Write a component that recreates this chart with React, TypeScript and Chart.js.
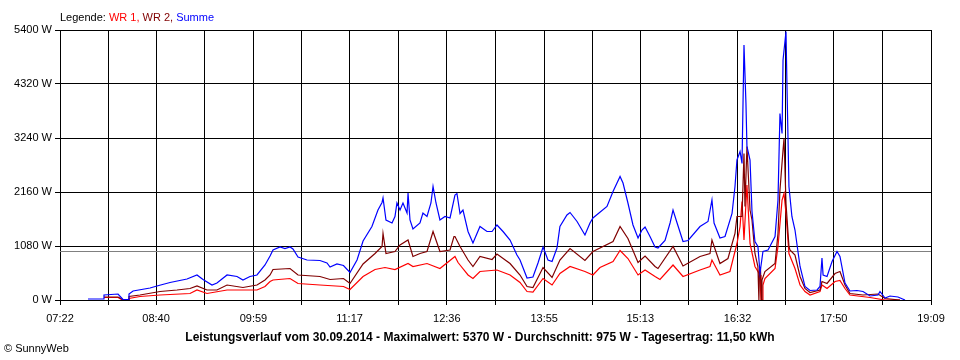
import React, { useEffect, useRef } from "react";
import { Chart, registerables } from "chart.js";

Chart.register(...registerables);

// Tick labels
const xTickLabels = ["07:22", "08:40", "09:59", "11:17", "12:36", "13:55", "15:13", "16:32", "17:50", "19:09"];
const yMax = 5400;
const yStep = 1080;
const averageW = 975;

const titleText = "Leistungsverlauf vom 30.09.2014 - Maximalwert: 5370 W - Durchschnitt: 975 W - Tagesertrag: 11,50 kWh";
const legendParts = [
  { text: "Legende: ", color: "#000000" },
  { text: "WR 1, ", color: "#FF0000" },
  { text: "WR 2, ", color: "#800000" },
  { text: "Summe", color: "#0000FF" },
];

// Summe (minutes since midnight, watts)
const sumMin = [464.7, 477.0, 477.7, 489.1, 492, 493.1, 497.5, 498.0, 501.3, 515.1, 520.7, 531.3, 545.1, 553.2, 558.1, 565.4, 569.4, 577.6, 585.7, 590.5, 596.2, 601.9, 608.4, 612.5, 614.9, 620.6, 624.6, 628.7, 631.1, 635.2, 642.5, 653.0, 658.7, 661.2, 666.8, 672.1, 677.4, 683.1, 688.0, 695.2, 700.1, 703.4, 704.2, 706.6, 711.5, 713.9, 715.5, 718.0, 720.4, 723.7, 724.5, 726.1, 728.5, 734.2, 736.6, 739.9, 743.1, 744.8, 747.2, 750.4, 754.5, 758.6, 762.6, 764.2, 766.7, 769.1, 773.2, 777.2, 782.9, 788.6, 792.7, 796.7, 801.6, 807.3, 812.9, 815.4, 821.1, 825.9, 830.0, 834.1, 838.1, 841.4, 845.4, 847.8, 853.5, 856.0, 861.7, 868.1, 872.2, 874.6, 886.0, 890.9, 896.6, 899.0, 903.0, 907.1, 911.2, 914.4, 916.9, 920.9, 925.0, 927.4, 933.1, 937.2, 939.6, 942.9, 947.7, 951.8, 961.5, 968.0, 971.2, 972.9, 977.7, 981.8, 987.5, 989.9, 991.5, 994.0, 995.6, 997.2, 998.8, 999.6, 1002.1, 1003.7, 1006.1, 1008.5, 1010.2, 1012.6, 1016.7, 1022.4, 1024.8, 1026.4, 1028.1, 1028.9, 1031.3, 1032.1, 1033.7, 1036.1, 1038.6, 1042.7, 1046.7, 1050.8, 1056.5, 1058.9, 1060.5, 1061.4, 1064.6, 1068.7, 1072.7, 1075.1, 1079.2, 1083.2, 1088.9, 1093.8, 1099.5, 1106.0, 1107.6, 1111.7, 1115.7, 1122.2, 1127.9];
const sumW = [20, 20, 100, 120, 40, 10, 10, 120, 180, 240, 280, 350, 420, 500, 410, 300, 340, 500, 470, 400, 470, 500, 700, 880, 1000, 1060, 1030, 1060, 1020, 860, 800, 790, 740, 660, 720, 690, 550, 800, 1180, 1470, 1800, 1950, 2040, 1600, 1540, 1670, 1940, 1800, 1940, 1740, 2140, 1600, 1420, 1540, 1740, 1670, 1940, 2270, 1940, 1600, 1670, 1640, 2100, 2130, 1730, 1800, 1370, 1140, 1470, 1370, 1370, 1500, 1370, 1200, 900, 800, 440, 460, 740, 1060, 800, 770, 1040, 1470, 1700, 1750, 1570, 1300, 1540, 1640, 1870, 2170, 2470, 2340, 1940, 1500, 1240, 1400, 1460, 1270, 1060, 1040, 1190, 1540, 1800, 1540, 1170, 1190, 1470, 1570, 2000, 1540, 1240, 1270, 1730, 2270, 2800, 2970, 2730, 5100, 3930, 3070, 2800, 1770, 1170, 1070, 540, 970, 1000, 1270, 2000, 3730, 3330, 4800, 5370, 4270, 2270, 1670, 1400, 670, 270, 190, 200, 270, 840, 500, 470, 770, 970, 870, 340, 180, 190, 170, 80, 100, 170, 40, 80, 60, 0];

// WR 2
const wr2Min = [477.7, 489.1, 492, 493.1, 497.5, 498.0, 506.9, 523.2, 537.0, 547.5, 553.2, 561.3, 569.4, 577.6, 590.5, 601.9, 608.4, 612.5, 614.9, 628.7, 635.2, 653.0, 661.2, 672.1, 677.4, 688.0, 697.7, 703.4, 704.2, 706.6, 713.9, 718.0, 724.5, 728.5, 734.2, 739.9, 744.8, 750.4, 758.6, 761.8, 762.6, 766.7, 773.2, 777.2, 782.9, 792.7, 796.7, 807.3, 815.4, 821.1, 825.9, 834.1, 841.4, 847.8, 856.0, 868.1, 874.6, 890.9, 896.6, 903.0, 911.2, 916.9, 925.0, 927.4, 939.6, 947.7, 961.5, 969.6, 971.2, 977.7, 984.2, 989.9, 991.5, 995.6, 997.2, 998.0, 999.6, 1002.1, 1003.7, 1006.1, 1008.5, 1009.3, 1009.8, 1010.6, 1011.3, 1011.8, 1014.2, 1022.4, 1024.8, 1026.4, 1028.9, 1029.7, 1031.3, 1033.7, 1034.5, 1038.6, 1042.7, 1046.7, 1050.8, 1058.9, 1060.5, 1064.6, 1071.1, 1075.1, 1079.2, 1083.2, 1093.8, 1106.0, 1111.7, 1123.8];
const wr2W = [60, 60, 20, 10, 10, 70, 100, 170, 200, 230, 280, 200, 200, 300, 250, 300, 400, 500, 610, 630, 500, 470, 410, 430, 330, 720, 930, 1070, 1330, 930, 970, 1100, 1200, 870, 930, 970, 1370, 970, 1000, 1270, 1270, 1070, 800, 670, 870, 810, 920, 730, 500, 270, 250, 650, 450, 800, 1030, 790, 970, 1170, 1470, 1230, 750, 880, 670, 630, 1070, 680, 870, 930, 1200, 730, 830, 1330, 1670, 1670, 2930, 1870, 3070, 1800, 1600, 930, 670, 0, 600, 620, 0, 400, 570, 730, 1330, 2200, 3000, 3230, 1930, 1070, 1000, 900, 470, 230, 150, 200, 370, 330, 530, 570, 300, 130, 100, 120, 30, 0];

// WR 1
const wr1Min = [477.7, 489.1, 492, 497.5, 498.0, 506.9, 523.2, 547.5, 553.2, 561.3, 577.6, 601.9, 608.4, 612.5, 614.9, 628.7, 635.2, 653.0, 672.1, 677.4, 688.0, 697.7, 705.8, 713.9, 724.5, 728.5, 739.9, 750.4, 762.6, 765.1, 766.7, 773.2, 777.2, 782.9, 796.7, 807.3, 815.4, 821.1, 825.9, 834.1, 841.4, 847.8, 856.0, 868.1, 874.6, 880.3, 890.9, 896.6, 903.0, 911.2, 916.9, 925.0, 929.0, 939.6, 947.7, 961.5, 969.6, 971.2, 977.7, 985.8, 991.5, 994.0, 995.6, 997.2, 999.6, 1002.1, 1006.1, 1010.2, 1011.0, 1012.0, 1012.6, 1014.2, 1022.4, 1024.8, 1028.1, 1029.7, 1031.3, 1033.7, 1038.6, 1042.7, 1046.7, 1050.8, 1058.9, 1060.5, 1064.6, 1071.1, 1075.1, 1079.2, 1083.2, 1099.5, 1111.7, 1123.8];
const wr1W = [50, 50, 10, 10, 30, 70, 100, 130, 200, 130, 200, 200, 270, 370, 400, 430, 330, 300, 270, 210, 470, 610, 650, 610, 730, 670, 730, 630, 870, 750, 700, 500, 430, 570, 600, 500, 350, 170, 160, 430, 300, 530, 670, 570, 500, 650, 770, 990, 830, 500, 600, 470, 410, 700, 470, 600, 670, 800, 500, 570, 1130, 1470, 1970, 1200, 2300, 1130, 670, 500, 0, 0, 300, 430, 630, 1070, 2000, 2130, 1730, 930, 630, 300, 170, 100, 170, 300, 230, 370, 390, 230, 100, 50, 0, 0];

const toMin = (s: string) => {
  const [h, m] = s.split(":").map(Number);
  return h * 60 + m;
};
const labelMinutes = xTickLabels.map(toMin);
const gridMinutes: number[] = [];
labelMinutes.forEach((m, i) => {
  gridMinutes.push(m);
  if (i < labelMinutes.length - 1) gridMinutes.push((m + labelMinutes[i + 1]) / 2);
});

const pts = (xs: number[], ys: number[]) => xs.map((x, i) => ({ x, y: ys[i] }));

const FONT = "'Liberation Sans', Arial, sans-serif";

export default function App() {
  const ref = useRef<HTMLCanvasElement | null>(null);
  useEffect(() => {
    if (!ref.current) return;
    const overlay = {
      id: "overlay",
      beforeDatasetsDraw(chart: any) {
        const { ctx, chartArea, scales } = chart;
        const y = Math.round(scales.y.getPixelForValue(averageW)) + 0.5;
        ctx.save();
        ctx.strokeStyle = "#808080";
        ctx.lineWidth = 1;
        ctx.beginPath();
        ctx.moveTo(chartArea.left, y);
        ctx.lineTo(chartArea.right, y);
        ctx.stroke();
        ctx.restore();
      },
      afterDraw(chart: any) {
        const { ctx } = chart;
        ctx.save();
        ctx.textBaseline = "alphabetic";
        ctx.font = `11px ${FONT}`;
        let x = 60;
        legendParts.forEach((p) => {
          ctx.fillStyle = p.color;
          ctx.textAlign = "left";
          ctx.fillText(p.text, x, 21);
          x += ctx.measureText(p.text).width;
        });
        ctx.font = `bold 12px ${FONT}`;
        ctx.fillStyle = "#000";
        ctx.textAlign = "center";
        ctx.fillText(titleText, 480, 341);
        ctx.font = `11px ${FONT}`;
        ctx.textAlign = "left";
        ctx.fillText("© SunnyWeb", 4, 352);
        ctx.restore();
      },
    };
    const chart = new Chart(ref.current, {
      type: "line",
      data: {
        datasets: [
          { label: "Summe", data: pts(sumMin, sumW), borderColor: "#0000FF", borderWidth: 1.2, pointRadius: 0, tension: 0, fill: false },
          { label: "WR 2", data: pts(wr2Min, wr2W), borderColor: "#800000", borderWidth: 1.2, pointRadius: 0, tension: 0, fill: false },
          { label: "WR 1", data: pts(wr1Min, wr1W), borderColor: "#FF0000", borderWidth: 1.2, pointRadius: 0, tension: 0, fill: false },
        ],
      },
      options: {
        animation: false,
        responsive: false,
        maintainAspectRatio: false,
        layout: { padding: { left: 0, right: 29, top: 30, bottom: 0 } },
        plugins: { legend: { display: false }, tooltip: { enabled: false }, title: { display: false } },
        scales: {
          x: {
            type: "linear",
            min: labelMinutes[0],
            max: labelMinutes[labelMinutes.length - 1],
            afterBuildTicks: (scale: any) => {
              scale.ticks = gridMinutes.map((v) => ({ value: v }));
            },
            afterFit: (scale: any) => {
              scale.height = 60;
            },
            grid: { color: "#000000", lineWidth: 1, tickLength: 5, drawTicks: true },
            border: { color: "#000000", width: 1 },
            ticks: {
              autoSkip: false,
              maxRotation: 0,
              padding: 7,
              color: "#000000",
              font: { family: FONT, size: 11 },
              callback: (_v: any, i: number) => (i % 2 === 0 ? xTickLabels[i / 2] : ""),
            },
          },
          y: {
            min: 0,
            max: yMax,
            afterFit: (scale: any) => {
              scale.width = 60;
            },
            grid: { color: "#000000", lineWidth: 1, tickLength: 5, drawTicks: true },
            border: { color: "#000000", width: 1 },
            ticks: {
              stepSize: yStep,
              padding: 3,
              color: "#000000",
              font: { family: FONT, size: 11 },
              callback: (v: any) => `${v} W`,
            },
          },
        },
      },
      plugins: [overlay],
    } as any);
    return () => chart.destroy();
  }, []);
  return (
    <div style={{ position: "fixed", left: 0, top: 0, width: 960, height: 360, background: "#fff" }}>
      <canvas ref={ref} width={960} height={360} style={{ display: "block" }} />
    </div>
  );
}
